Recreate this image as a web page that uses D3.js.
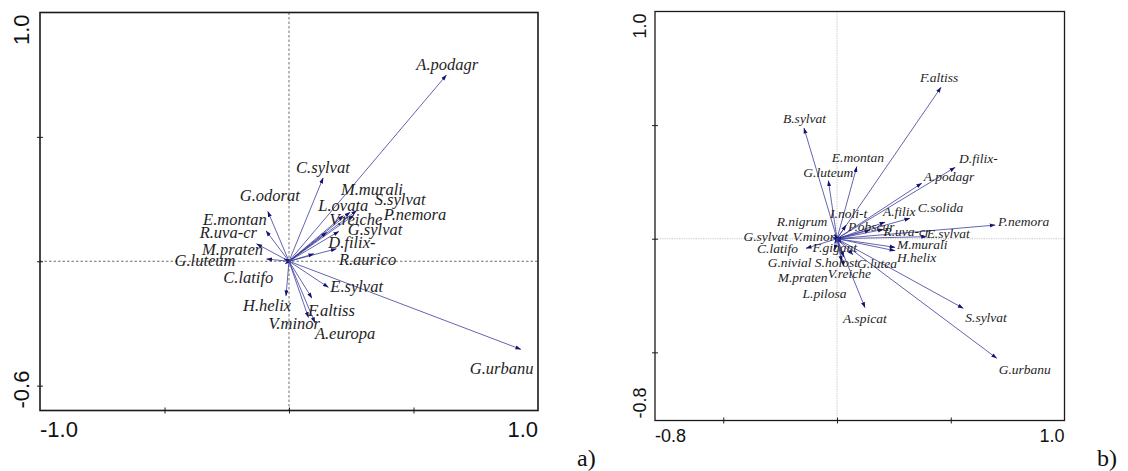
<!DOCTYPE html>
<html>
<head>
<meta charset="utf-8">
<script src="https://cdn.jsdelivr.net/npm/d3@7"></script>
<style>
	body{margin:0;background:#fff;}
	svg{display:block;}
	.sp{font-family:'Liberation Serif','Times New Roman',serif;font-style:italic;fill:#1e1e1e;}
	.ax{font-family:'Liberation Sans',Arial,sans-serif;fill:#111;}
	.tag{font-family:'Liberation Serif','Times New Roman',serif;fill:#111;}
</style>
</head>
<body>
<svg id="chart" width="1128" height="471"></svg>
<script>
//panel a) species scores on axis 1 / axis 2
const speciesA = ['A.podagr','G.urbanu','C.sylvat','G.odorat','E.montan','R.uva-cr','M.praten','G.luteum',
	'C.latifo','H.helix','E.sylvat','F.altiss','V.minor','A.europa','M.murali','S.sylvat','L.ovata',
	'P.nemora','V.reiche','G.sylvat','D.filix-','R.aurico'];
const axis1A = [0.632,0.931,0.137,-0.085,-0.092,-0.130,-0.020,-0.090,
	-0.015,-0.012,0.158,0.092,0.078,0.104,0.245,0.272,0.218,
	0.260,0.151,0.200,0.190,0.100];
const axis2A = [0.748,-0.354,0.335,0.200,0.122,0.070,0.010,0.009,
	-0.010,-0.139,-0.105,-0.148,-0.226,-0.247,0.197,0.204,0.183,
	0.185,0.116,0.120,0.050,0.030];
const rangeXA = [-1.0, 1.0];
const rangeYA = [-0.6, 1.0];
const tickLabelsXA = ['-1.0','1.0'];
const tickLabelsYA = ['-0.6','1.0'];

//panel b)
const speciesB = ['F.altiss','B.sylvat','E.montan','G.luteum','A.podagr','D.filix-','P.nemora','S.sylvat',
	'G.urbanu','A.spicat','E.sylvat','R.uva-cr','P.obscur','A.filix','C.solida','I.noli-t','R.nigrum',
	'G.sylvat','V.minor','C.latifo','F.gigant','M.murali','H.helix','G.nivial','S.holost','G.lutea',
	'V.reiche','M.praten','L.pilosa'];
const axis1B = [0.457,-0.145,0.087,-0.038,0.372,0.519,0.695,0.555,
	0.702,0.123,0.394,0.204,0.145,0.211,0.320,0.040,-0.010,
	-0.020,-0.005,-0.136,0.020,0.255,0.255,-0.010,0.030,0.070,
	0.030,-0.010,0.020];
const axis2B = [0.666,0.487,0.317,0.255,0.244,0.314,0.060,-0.306,
	-0.526,-0.303,0.009,0.041,0.038,0.073,0.090,0.060,0.020,
	0.005,0.000,-0.042,-0.020,-0.038,-0.053,-0.020,-0.080,-0.070,
	-0.120,-0.050,-0.100];
const rangeXB = [-0.8, 1.0];
const rangeYB = [-0.8, 1.0];
const tickLabelsXB = ['-0.8','1.0'];
const tickLabelsYB = ['-0.8','1.0'];

//label nudges (px from arrow tip)
const nudgeA = {
	'A.podagr':[-30,-5],'G.urbanu':[-51,25],'C.sylvat':[-27,-5],'G.odorat':[-28,-11],
	'E.montan':[-63,-6],'R.uva-cr':[-57,-6],'M.praten':[-82,-4],'G.luteum':[-92,7],
	'C.latifo':[-62,19],'H.helix':[-43,15],'E.sylvat':[2,5],'F.altiss':[-4,18],
	'V.minor':[-40,12],'A.europa':[0,16],'M.murali':[-9,-17],'S.sylvat':[18,-6],
	'L.ovata':[-25,-5],'P.nemora':[30,5],'V.reiche':[3,-7],'G.sylvat':[9,4],
	'D.filix-':[-8,-1],'R.aurico':[25,11]
};
const nudgeB = {
	'F.altiss':[-21,-5],'B.sylvat':[-21,-5],'E.montan':[-25,-5],'G.luteum':[-25,-4],
	'A.podagr':[2,-2],'D.filix-':[4,-4],'P.nemora':[3,1],'S.sylvat':[2,14],
	'G.urbanu':[2,16],'A.spicat':[-22,15],'E.sylvat':[0,1],'R.uva-cr':[0,7],
	'P.obscur':[-22,1],'A.filix':[-2,-6],'C.solida':[8,-6],'I.noli-t':[-16,-7],
	'R.nigrum':[-58,-8],'G.sylvat':[-89,3],'V.minor':[-43,2],'C.latifo':[-49,5],
	'F.gigant':[-29,9],'M.murali':[2,2],'H.helix':[2,11],'G.nivial':[-67,24],
	'S.holost':[-29,10],'G.lutea':[4,13],'V.reiche':[-16,12],'M.praten':[-57,32],
	'L.pilosa':[-39,37]
};

const svg = d3.select('#chart');
svg.append('rect').attr('width',1128).attr('height',471).attr('fill','#fff');

function Biplot(){
	//defaults
	let box = {l:0, r:100, t:0, b:100};
	let rangeX = [-1,1], rangeY = [-1,1];
	let tickLabelsX = [], tickLabelsY = [];
	let axisFont = 20, labelFont = 14;
	let zeroStyle = {color:'#555', dash:'2,2'};
	let frameWidth = 1.5;
	let id = 'p';

	function exports(root, rows, nudge){
		const scaleX = d3.scaleLinear().domain(rangeX).range([box.l, box.r]);
		const scaleY = d3.scaleLinear().domain(rangeY).range([box.b, box.t]);

		//arrow head
		root.append('defs').append('marker')
			.attr('id', 'head-' + id)
			.attr('viewBox', '0 -3 7 6')
			.attr('refX', 6.5)
			.attr('refY', 0)
			.attr('markerUnits', 'userSpaceOnUse')
			.attr('markerWidth', 6)
			.attr('markerHeight', 5)
			.attr('orient', 'auto')
			.append('path')
			.attr('d', 'M0,-2.4L7,0L0,2.4Z')
			.attr('fill', '#14146e');

		//zero lines
		root.append('line')
			.attr('x1', scaleX(0)).attr('x2', scaleX(0))
			.attr('y1', box.t).attr('y2', box.b)
			.attr('stroke', zeroStyle.color)
			.attr('stroke-width', 0.8)
			.attr('stroke-dasharray', zeroStyle.dash);
		root.append('line')
			.attr('x1', box.l).attr('x2', box.r)
			.attr('y1', scaleY(0)).attr('y2', scaleY(0))
			.attr('stroke', zeroStyle.color)
			.attr('stroke-width', 0.8)
			.attr('stroke-dasharray', zeroStyle.dash);

		//ticks crossing the frame
		const axisX = d3.axisBottom(scaleX)
			.tickValues([-0.5, 0, 0.5])
			.tickSize(6)
			.tickFormat('');
		const axisY = d3.axisLeft(scaleY)
			.tickValues([-0.5, 0, 0.5])
			.tickSize(6)
			.tickFormat('');
		const gx = root.append('g')
			.attr('transform', `translate(0,${box.b - 3})`)
			.call(axisX);
		const gy = root.append('g')
			.attr('transform', `translate(${box.l + 3},0)`)
			.call(axisY);
		[gx, gy].forEach(g => {
			g.select('.domain').remove();
			g.selectAll('line').attr('stroke', '#222').attr('stroke-width', 1);
		});

		//frame
		root.append('rect')
			.attr('x', box.l).attr('y', box.t)
			.attr('width', box.r - box.l)
			.attr('height', box.b - box.t)
			.attr('fill', 'none')
			.attr('stroke', '#1a1a1a')
			.attr('stroke-width', frameWidth);

		//range labels
		root.append('text').attr('class','ax')
			.attr('x', box.l).attr('y', box.b + axisFont * 1.2)
			.attr('font-size', axisFont)
			.text(tickLabelsX[0]);
		root.append('text').attr('class','ax')
			.attr('x', box.r).attr('y', box.b + axisFont * 1.2)
			.attr('text-anchor', 'end')
			.attr('font-size', axisFont)
			.text(tickLabelsX[1]);
		const yLab = box.l - axisFont * 0.5;
		root.append('text').attr('class','ax')
			.attr('transform', `translate(${yLab},${box.b - 2}) rotate(-90)`)
			.attr('font-size', axisFont)
			.text(tickLabelsY[0]);
		root.append('text').attr('class','ax')
			.attr('transform', `translate(${yLab},${box.t + 2}) rotate(-90)`)
			.attr('text-anchor', 'end')
			.attr('font-size', axisFont)
			.text(tickLabelsY[1]);

		//species arrows
		root.append('g').selectAll('line')
			.data(rows)
			.join('line')
			.attr('x1', scaleX(0))
			.attr('y1', scaleY(0))
			.attr('x2', d => scaleX(d.x))
			.attr('y2', d => scaleY(d.y))
			.attr('stroke', '#3c3c9c')
			.attr('stroke-width', 0.8)
			.attr('marker-end', `url(#head-${id})`);

		root.append('g').selectAll('text')
			.data(rows)
			.join('text')
			.attr('class', 'sp')
			.attr('font-size', labelFont)
			.attr('x', d => scaleX(d.x) + (nudge[d.name] || [0,0])[0])
			.attr('y', d => scaleY(d.y) + (nudge[d.name] || [0,0])[1])
			.text(d => d.name);
	}

	exports.box = function(_){ if(!_) return box; box = _; return this; };
	exports.ranges = function(x, y){ rangeX = x; rangeY = y; return this; };
	exports.tickLabels = function(x, y){ tickLabelsX = x; tickLabelsY = y; return this; };
	exports.fonts = function(a, l){ axisFont = a; labelFont = l; return this; };
	exports.zero = function(_){ zeroStyle = _; return this; };
	exports.frame = function(_){ frameWidth = _; return this; };
	exports.id = function(_){ id = _; return this; };

	return exports;
}

const rowsA = speciesA.map((name, i) => ({name, x:axis1A[i], y:axis2A[i]}));
const rowsB = speciesB.map((name, i) => ({name, x:axis1B[i], y:axis2B[i]}));

Biplot()
	.id('a')
	.box({l:40, r:538, t:12.5, b:410.5})
	.ranges(rangeXA, rangeYA)
	.tickLabels(tickLabelsXA, tickLabelsYA)
	.fonts(22, 16.5)
	.zero({color:'#4a4a4a', dash:'2.5,2'})
	.frame(1.6)(svg.append('g'), rowsA, nudgeA);

Biplot()
	.id('b')
	.box({l:655, r:1064.5, t:11.5, b:420.5})
	.ranges(rangeXB, rangeYB)
	.tickLabels(tickLabelsXB, tickLabelsYB)
	.fonts(18, 13.5)
	.zero({color:'#b5b5b5', dash:'1.2,1.2'})
	.frame(1.3)(svg.append('g'), rowsB, nudgeB);

//panel tags
svg.append('text').attr('class','tag').attr('x',577).attr('y',466).attr('font-size',24).text('a)');
svg.append('text').attr('class','tag').attr('x',1097).attr('y',466).attr('font-size',24).text('b)');
</script>
</body>
</html>
